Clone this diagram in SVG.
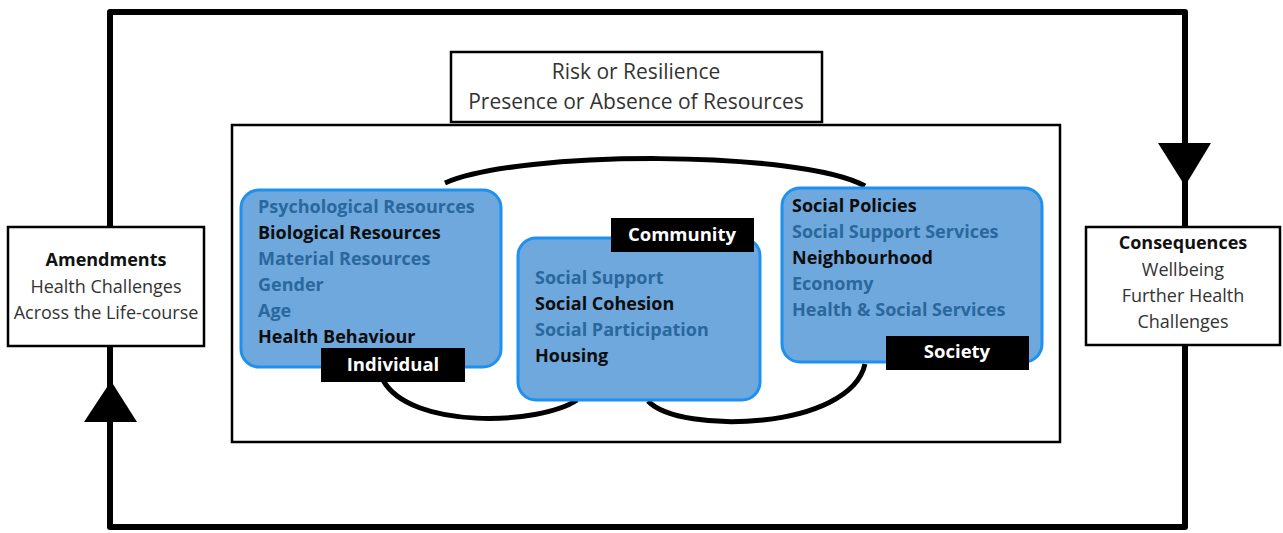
<svg xmlns="http://www.w3.org/2000/svg" width="1283" height="533" viewBox="0 0 1283 533">
<style>
text{font-family:"Open Sans","Noto Sans","Liberation Sans",sans-serif}
.box{fill:#fff;stroke:#000;stroke-width:2.5}
.blue{fill:#6fa8dc;stroke:#1e90f0;stroke-width:3}
.lbl{fill:#000}
.lt{fill:#fff;font-weight:bold;font-size:18.5px;text-anchor:middle}
.b{font-weight:bold;font-size:18px}
.c1{fill:#2a679c}
.c2{fill:#0d0d0d}
.reg{fill:#333;font-size:18px;text-anchor:middle}
.loop{fill:none;stroke:#000;stroke-width:6;stroke-linejoin:round}
.curve{fill:none;stroke:#000;stroke-width:5}
</style>
<g id="outer-frame"><rect class="box" x="232" y="125" width="828" height="317" stroke-width="2"/></g>
<g id="connectors">
<path class="loop" d="M110,227 V12 H1185 V227"/>
<path class="loop" d="M1185,345 V527 H110 V346"/>
<polygon points="1158,143 1211,143 1185,186" fill="#000"/>
<polygon points="84,422 137,422 111,381" fill="#000"/>
<path class="curve" d="M445,183 C520,150 800,150 865,186"/>
<path class="curve" d="M383,380 C410,430 540,425 577,400"/>
<path class="curve" d="M648,401 C680,435 850,430 865,364"/>
</g>
<g id="risk"><rect class="box" x="451" y="52" width="371" height="70"/>
<text class="reg" x="636" y="79" style="font-size:21px">Risk or Resilience</text>
<text class="reg" x="636" y="109" style="font-size:21px">Presence or Absence of Resources</text></g>
<g id="amendments"><rect class="box" x="8" y="227" width="196" height="119"/>
<text class="reg b" x="106" y="266" style="fill:#111">Amendments</text>
<text class="reg" x="106" y="293">Health Challenges</text>
<text class="reg" x="106" y="319">Across the Life-course</text></g>
<g id="consequences"><rect class="box" x="1086" y="227" width="194" height="118"/>
<text class="reg b" x="1183" y="249" style="fill:#111">Consequences</text>
<text class="reg" x="1183" y="276">Wellbeing</text>
<text class="reg" x="1183" y="302">Further Health</text>
<text class="reg" x="1183" y="328">Challenges</text></g>
<g id="individual"><rect class="blue" x="241" y="190" width="260" height="177" rx="18"/>
<text class="b c1" x="258" y="213">Psychological Resources</text>
<text class="b c2" x="258" y="239">Biological Resources</text>
<text class="b c1" x="258" y="265">Material Resources</text>
<text class="b c1" x="258" y="291">Gender</text>
<text class="b c1" x="258" y="317">Age</text>
<text class="b c2" x="258" y="343">Health Behaviour</text>
<rect class="lbl" x="321" y="348" width="144" height="34"/>
<text class="lt" x="393" y="371">Individual</text></g>
<g id="community"><rect class="blue" x="518" y="238" width="242" height="162" rx="18"/>
<text class="b c1" x="535" y="284">Social Support</text>
<text class="b c2" x="535" y="310">Social Cohesion</text>
<text class="b c1" x="535" y="336">Social Participation</text>
<text class="b c2" x="535" y="362">Housing</text>
<rect class="lbl" x="611" y="218" width="143" height="34"/>
<text class="lt" x="682" y="241">Community</text></g>
<g id="society"><rect class="blue" x="782" y="188" width="260" height="174" rx="18"/>
<text class="b c2" x="792" y="212">Social Policies</text>
<text class="b c1" x="792" y="238">Social Support Services</text>
<text class="b c2" x="792" y="264">Neighbourhood</text>
<text class="b c1" x="792" y="290">Economy</text>
<text class="b c1" x="792" y="316">Health &amp; Social Services</text>
<rect class="lbl" x="886" y="336" width="143" height="34"/>
<text class="lt" x="957" y="358">Society</text></g>
</svg>
